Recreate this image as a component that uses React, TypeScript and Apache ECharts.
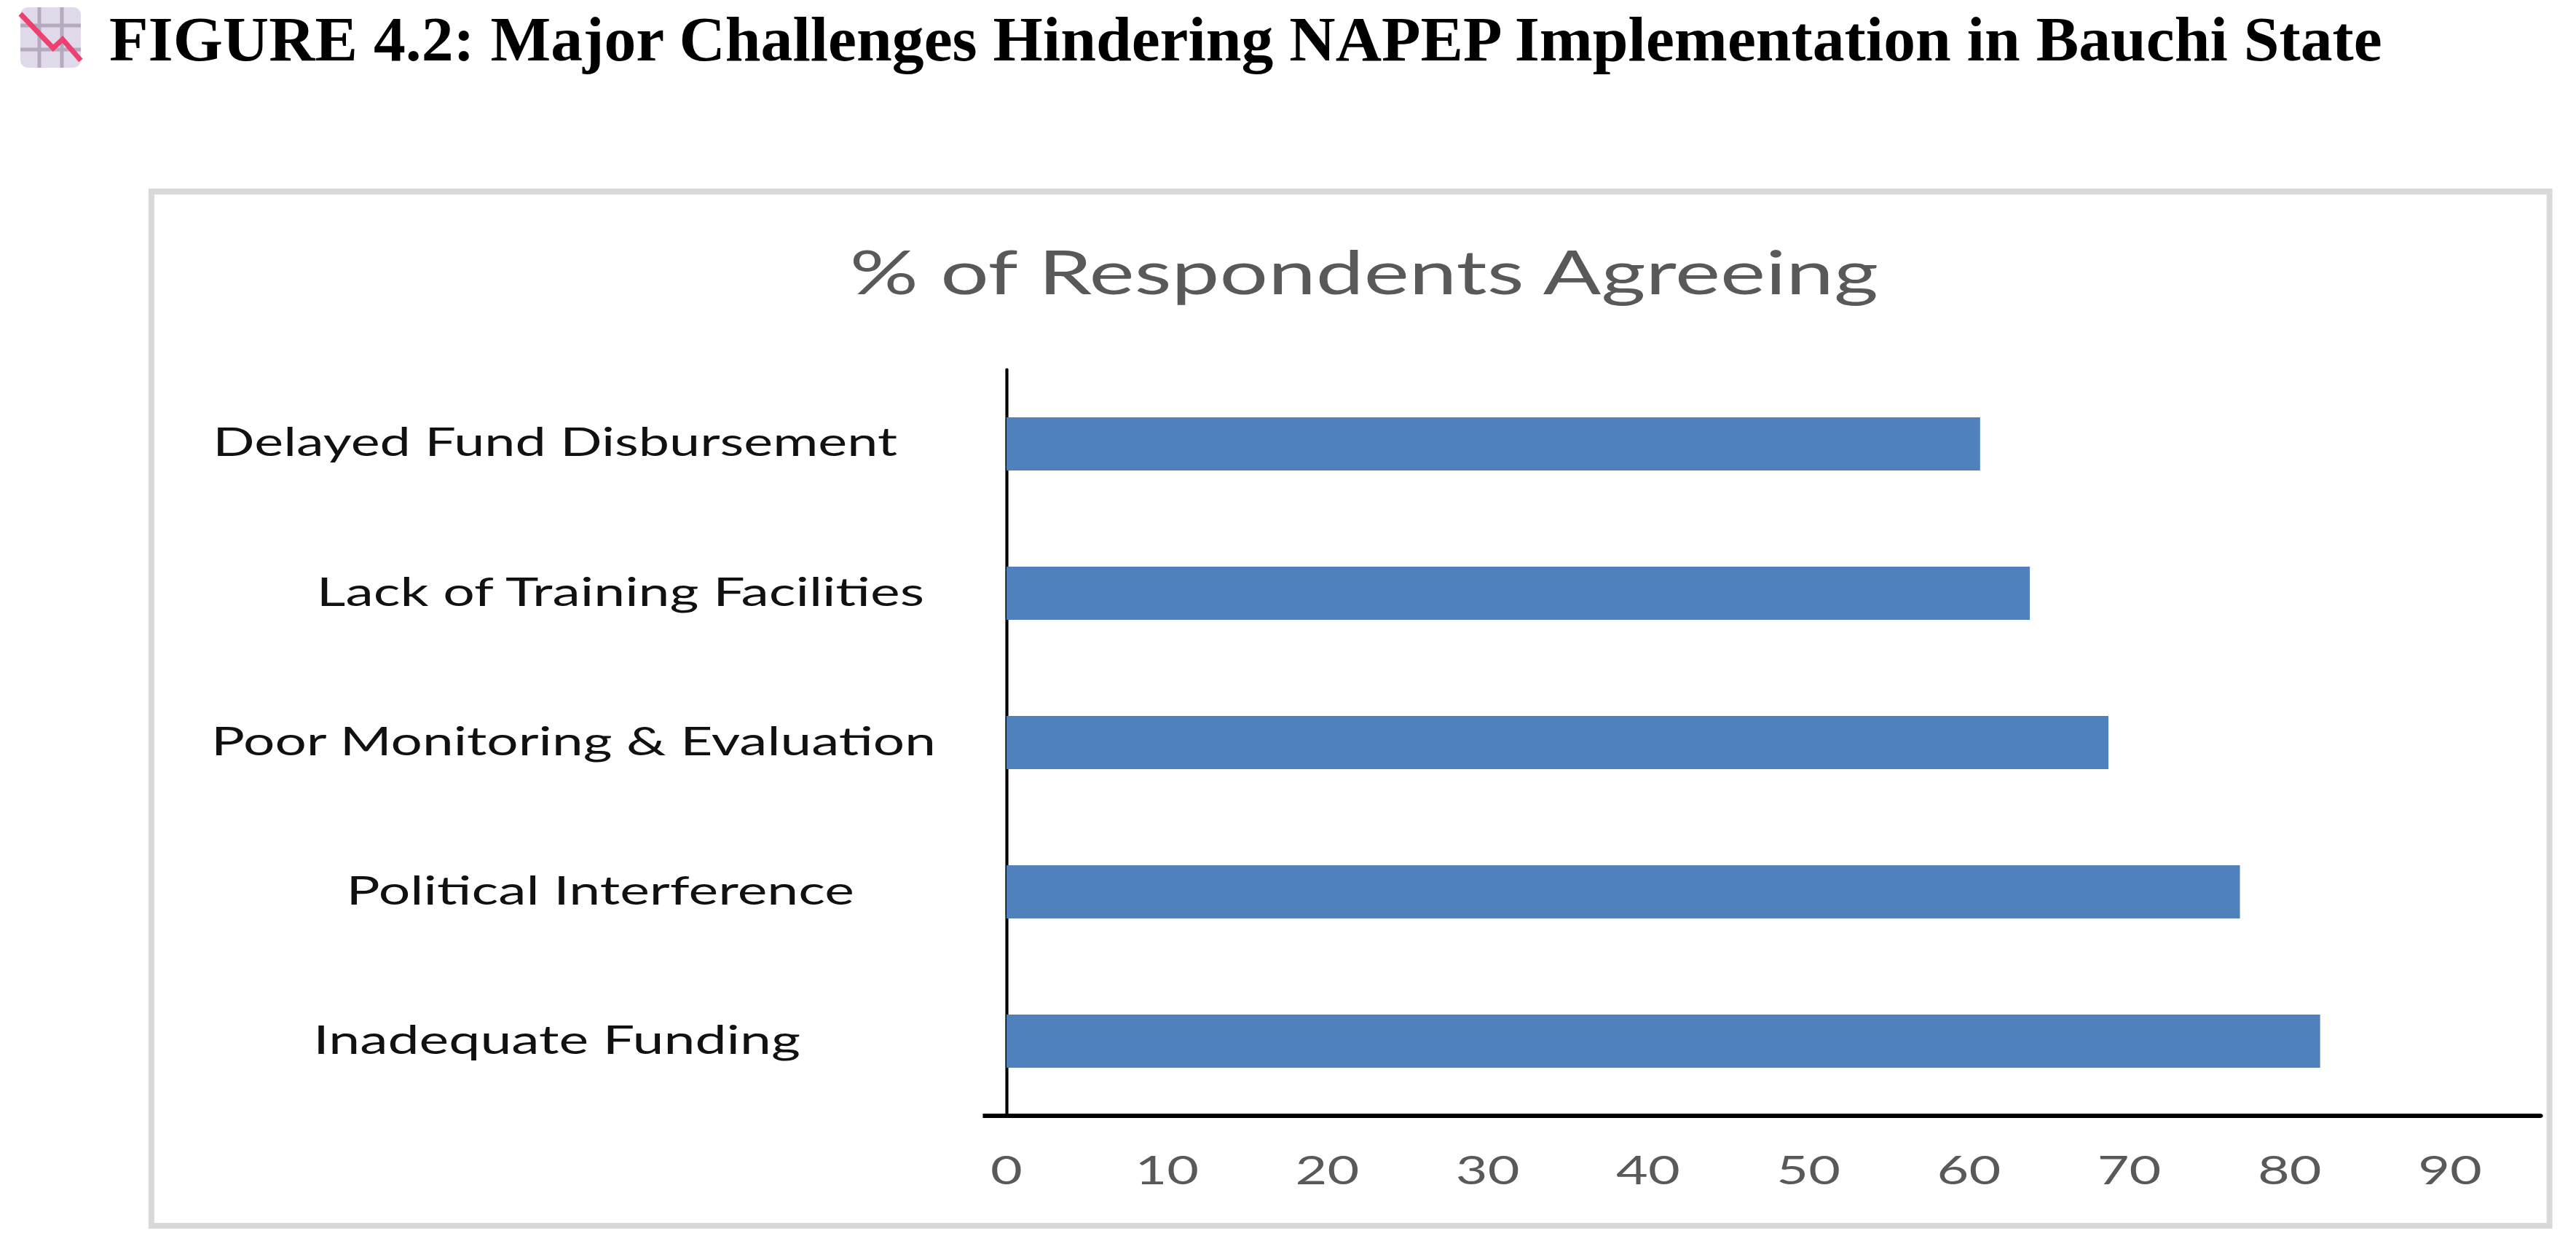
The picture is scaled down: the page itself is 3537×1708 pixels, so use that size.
import * as echarts from 'echarts';
import { useEffect, useRef } from 'react';

const heading = 'FIGURE 4.2: Major Challenges Hindering NAPEP Implementation in Bauchi State';
const chartTitle = '% of Respondents Agreeing';

// bottom to top, the way the category axis counts
const challenges = [
  'Inadequate Funding',
  'Political Interference',
  'Poor Monitoring & Evaluation',
  'Lack of Training Facilities',
  'Delayed Fund Disbursement'
];
const agreeing = [81.9, 76.9, 68.7, 63.8, 60.7];
const axisMax = 95.6;

// the labels in the source are not lined up, each one keeps its own gap to the axis
const labelGaps = [283, 209, 97, 113, 150];
const labelSizes = [55, 55, 54.7, 55, 54];

// the source picture is a stretched screenshot, so the whole chart is stretched too
const STRETCH = 1.4;
const W = 3537;
const H = 1708;
const sx = (x: number) => x / STRETCH;

export default function App() {
  const elRef = useRef<HTMLDivElement | null>(null);

  useEffect(() => {
    if (!elRef.current) return;
    const chart = echarts.init(elRef.current, undefined, { renderer: 'svg' });

    const rich: Record<string, any> = {};
    labelGaps.forEach((gap, i) => {
      rich['l' + i] = {
        fontFamily: 'Lato',
        fontSize: labelSizes[i],
        color: '#111111',
        padding: [0, sx(gap - 90), 8, 0]
      };
    });

    chart.setOption({
      animation: false,
      backgroundColor: '#ffffff',
      title: {
        text: chartTitle,
        left: sx(1866),
        top: 325,
        textAlign: 'center',
        textStyle: { fontFamily: 'Lato', fontSize: 84, fontWeight: 'normal', color: '#595959' }
      },
      grid: { left: sx(1382), right: sx(W - 3488), top: 507, bottom: H - 1532 },
      xAxis: {
        type: 'value',
        min: 0,
        max: axisMax,
        interval: 10,
        splitLine: { show: false },
        axisTick: { show: false },
        axisLine: { show: true, lineStyle: { color: '#000000', width: 6 } },
        axisLabel: {
          showMaxLabel: false,
          margin: 46,
          fontFamily: 'Lato',
          fontSize: 54,
          color: '#595959'
        }
      },
      yAxis: {
        type: 'category',
        data: challenges,
        axisTick: { show: false },
        axisLine: { show: true, lineStyle: { color: '#000000', width: 3 } },
        axisLabel: {
          margin: sx(90),
          formatter: (value: string) => `{l${challenges.indexOf(value)}|${value}}`,
          rich
        }
      },
      series: [
        {
          type: 'bar',
          data: agreeing,
          barWidth: 73,
          itemStyle: { color: '#4f81bd' }
        }
      ],
      graphic: [
        {
          type: 'group',
          x: 0,
          y: 0,
          scaleX: 1 / STRETCH,
          children: [
            // frame
            {
              type: 'rect',
              shape: { x: 208, y: 263, width: 3294, height: 1420 },
              style: { fill: 'none', stroke: '#d9d9d9', lineWidth: 8 }
            },
            // axis runs a little past zero on the left
            {
              type: 'rect',
              shape: { x: 1350, y: 1529, width: 34, height: 6 },
              style: { fill: '#000000' }
            },
            // chart-decreasing icon
            {
              type: 'rect',
              shape: { x: 28, y: 10, width: 83, height: 83, r: 10 },
              style: { fill: '#e0d9ea' }
            },
            { type: 'line', shape: { x1: 54, y1: 10, x2: 54, y2: 93 }, style: { stroke: '#b4a9bd', lineWidth: 5 } },
            { type: 'line', shape: { x1: 85, y1: 10, x2: 85, y2: 93 }, style: { stroke: '#b4a9bd', lineWidth: 5 } },
            { type: 'line', shape: { x1: 28, y1: 35, x2: 111, y2: 35 }, style: { stroke: '#b4a9bd', lineWidth: 5 } },
            { type: 'line', shape: { x1: 28, y1: 68, x2: 111, y2: 68 }, style: { stroke: '#b4a9bd', lineWidth: 5 } },
            {
              type: 'polyline',
              shape: { points: [[28, 19], [73, 66], [86, 54], [111, 83]] },
              style: { fill: 'none', stroke: '#ee4070', lineWidth: 7 }
            },
            {
              type: 'text',
              x: 150,
              y: 10,
              scaleX: 1.008,
              style: {
                text: heading,
                fontFamily: 'Liberation Serif',
                fontWeight: 'bold',
                fontSize: 87,
                fill: '#000000'
              }
            }
          ]
        }
      ]
    });

    return () => chart.dispose();
  }, []);

  return (
    <div style={{ position: 'absolute', left: 0, top: 0, width: W, height: H, overflow: 'hidden' }}>
      <div
        ref={elRef}
        style={{
          width: sx(W),
          height: H,
          transform: `scaleX(${STRETCH})`,
          transformOrigin: 'left top'
        }}
      />
    </div>
  );
}
